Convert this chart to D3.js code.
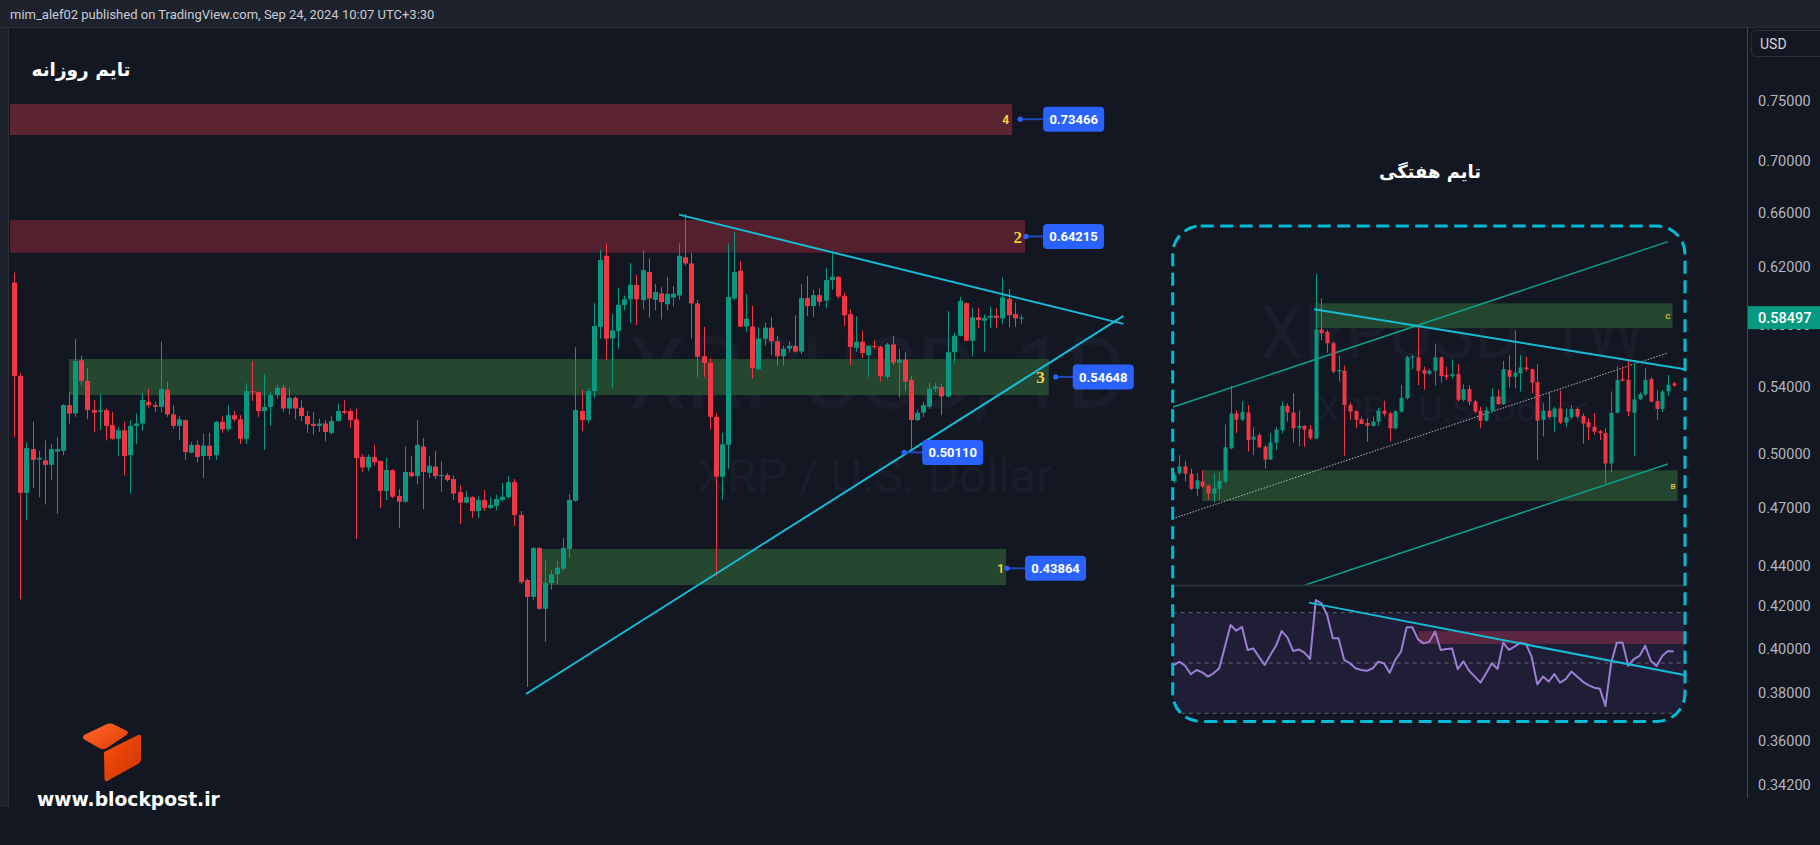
<!DOCTYPE html>
<html>
<head>
<meta charset="utf-8">
<script src="https://cdn.jsdelivr.net/npm/d3@7"></script>
<style>
html, body { margin: 0; padding: 0; background: #131722; overflow: hidden; }
svg { display: block; }
</style>
</head>
<body>
<div id="chart"></div>
<script>

// ---- daily XRPUSD candles [open, high, low, close], Apr 12 -> Sep 24 2024
var dailyCandles = [
[0.609,0.616,0.510,0.547],[0.547,0.549,0.4233,0.4784],[0.4784,0.507,0.4637,0.5036],[0.503,0.519,0.481,0.4968],
[0.497,0.502,0.476,0.498],[0.4965,0.508,0.472,0.494],[0.494,0.506,0.4855,0.503],[0.5016,0.51,0.467,0.503],
[0.502,0.5297,0.4995,0.5291],[0.529,0.537,0.518,0.524],[0.524,0.571,0.522,0.5565],[0.557,0.56,0.5415,0.544],
[0.544,0.552,0.5205,0.5261],[0.526,0.532,0.513,0.5245],[0.525,0.536,0.514,0.526],[0.526,0.527,0.508,0.5166],
[0.517,0.525,0.5085,0.509],[0.509,0.516,0.499,0.514],[0.514,0.519,0.488,0.499],[0.4995,0.52,0.478,0.5166],
[0.5166,0.524,0.506,0.518],[0.518,0.5365,0.514,0.5322],[0.531,0.539,0.5275,0.529],[0.529,0.531,0.525,0.528],
[0.528,0.569,0.5245,0.539],[0.5385,0.5435,0.522,0.5235],[0.5235,0.529,0.515,0.5166],[0.5166,0.5225,0.5085,0.5205],
[0.52,0.5205,0.4968,0.5013],[0.501,0.507,0.5005,0.5055],[0.5055,0.508,0.4955,0.4985],[0.499,0.512,0.4866,0.505],
[0.505,0.5125,0.4968,0.499],[0.4995,0.5195,0.4968,0.519],[0.519,0.5225,0.5125,0.5146],[0.5146,0.529,0.5135,0.523],
[0.523,0.5255,0.519,0.5205],[0.5205,0.523,0.506,0.509],[0.509,0.5425,0.506,0.5377],[0.5375,0.5565,0.5316,0.537],
[0.537,0.5375,0.522,0.5255],[0.5255,0.548,0.5025,0.528],[0.528,0.537,0.5166,0.5352],[0.5352,0.5415,0.533,0.5397],
[0.5397,0.5415,0.525,0.527],[0.527,0.5395,0.5235,0.5335],[0.5335,0.5345,0.5205,0.527],[0.5275,0.532,0.5195,0.5225],
[0.5225,0.5255,0.5125,0.5175],[0.5178,0.525,0.5115,0.5166],[0.5166,0.521,0.513,0.518],[0.518,0.52,0.5075,0.513],
[0.5125,0.5225,0.5115,0.5195],[0.5195,0.53,0.519,0.5255],[0.5255,0.532,0.5235,0.5245],[0.5255,0.527,0.5155,0.52],
[0.5205,0.527,0.4537,0.4979],[0.4985,0.5,0.49,0.4925],[0.4925,0.5,0.4905,0.4985],[0.4985,0.5055,0.4935,0.4955],
[0.4962,0.4965,0.470,0.4794],[0.4794,0.498,0.4745,0.491],[0.491,0.4915,0.4755,0.4762],[0.4767,0.4805,0.4595,0.4735],
[0.4735,0.5045,0.473,0.49],[0.4898,0.499,0.487,0.4876],[0.4876,0.52,0.483,0.5055],[0.5045,0.5095,0.4695,0.49],
[0.4895,0.499,0.4866,0.4935],[0.493,0.502,0.486,0.4876],[0.4876,0.496,0.479,0.4882],[0.4882,0.4893,0.4845,0.4855],
[0.486,0.4882,0.4745,0.478],[0.4788,0.4826,0.4615,0.473],[0.473,0.4794,0.4725,0.476],[0.476,0.4765,0.4647,0.4685],
[0.4685,0.4765,0.4647,0.4745],[0.4745,0.48,0.4685,0.4702],[0.4702,0.476,0.4696,0.4718],[0.4713,0.4773,0.469,0.475],
[0.4745,0.4838,0.4735,0.4762],[0.476,0.4877,0.4755,0.4843],[0.4843,0.486,0.4605,0.4664],[0.4664,0.4685,0.4307,0.4318],
[0.4328,0.4335,0.3828,0.4245],[0.4245,0.4495,0.423,0.449],[0.449,0.4495,0.4183,0.4187],[0.4187,0.4429,0.4032,0.4313],
[0.4313,0.4376,0.428,0.4357],[0.4357,0.4425,0.4307,0.439],[0.4385,0.4542,0.4375,0.449],[0.4485,0.4777,0.444,0.4745],
[0.474,0.5655,0.4735,0.5261],[0.5255,0.5385,0.5135,0.52],[0.52,0.5395,0.5185,0.5377],[0.5377,0.5948,0.5335,0.5794],
[0.5788,0.6323,0.571,0.625],[0.628,0.637,0.5572,0.571],[0.5712,0.5875,0.5397,0.5765],[0.576,0.605,0.5645,0.5936],
[0.5936,0.6,0.59,0.5975],[0.5975,0.6227,0.5813,0.6073],[0.6073,0.6145,0.58,0.5973],[0.5969,0.6323,0.5905,0.6178],
[0.6164,0.6262,0.585,0.598],[0.597,0.608,0.59,0.6024],[0.6015,0.6058,0.5838,0.5955],[0.594,0.6131,0.59,0.6012],
[0.5986,0.6066,0.5926,0.6013],[0.6,0.637,0.597,0.628],[0.627,0.659,0.621,0.6225],[0.6225,0.6302,0.571,0.5946],
[0.5946,0.597,0.5465,0.5593],[0.5596,0.5788,0.5465,0.5553],[0.5553,0.5583,0.5143,0.522],[0.522,0.5245,0.4347,0.4873],
[0.4873,0.5125,0.4745,0.5058],[0.5055,0.637,0.4918,0.599],[0.598,0.6455,0.597,0.6164],[0.6173,0.6242,0.5788,0.579],
[0.579,0.601,0.5755,0.5842],[0.579,0.593,0.5455,0.552],[0.5514,0.5785,0.5505,0.571],[0.571,0.5818,0.5665,0.5783],
[0.5783,0.5853,0.5603,0.5693],[0.5693,0.5727,0.5535,0.5596],[0.5596,0.5665,0.5535,0.5645],[0.5645,0.5693,0.562,0.5663],
[0.5663,0.5865,0.562,0.5626],[0.5626,0.608,0.561,0.5982],[0.5982,0.6138,0.586,0.5928],[0.5928,0.6042,0.5855,0.6003],
[0.6003,0.605,0.5928,0.5957],[0.5965,0.6195,0.5912,0.6107],[0.6107,0.6312,0.604,0.613],[0.613,0.6135,0.598,0.5993],
[0.5998,0.6021,0.5794,0.5866],[0.5873,0.5905,0.554,0.5657],[0.5651,0.5858,0.5626,0.569],[0.569,0.5765,0.5585,0.5616],
[0.5605,0.5668,0.5465,0.5663],[0.5663,0.57,0.564,0.5658],[0.5658,0.5663,0.5435,0.5469],[0.5465,0.5682,0.545,0.5673],
[0.5673,0.573,0.554,0.5555],[0.5555,0.5644,0.5336,0.5575],[0.5575,0.5623,0.5376,0.5435],[0.5445,0.547,0.5011,0.5201],
[0.5201,0.5262,0.5195,0.5245],[0.5245,0.5312,0.5218,0.5291],[0.5281,0.5425,0.5267,0.5392],[0.5392,0.5428,0.5372,0.5405],
[0.5402,0.5425,0.523,0.5344],[0.5344,0.5893,0.5336,0.5622],[0.5622,0.5749,0.5553,0.5729],[0.5729,0.5991,0.5725,0.5962],
[0.5948,0.5952,0.5693,0.5697],[0.5697,0.5916,0.5596,0.5852],[0.5852,0.5916,0.578,0.5833],[0.5829,0.5871,0.5626,0.5848],
[0.5848,0.5925,0.578,0.5862],[0.5862,0.5918,0.578,0.5848],[0.5845,0.6127,0.5806,0.5987],[0.5978,0.6046,0.5784,0.5866],
[0.5873,0.5952,0.5788,0.5845],[0.5845,0.5871,0.5808,0.585]
];

var priceTicks = [0.75, 0.70, 0.66, 0.62, 0.58, 0.54, 0.50, 0.47, 0.44, 0.42, 0.40, 0.38, 0.36, 0.342];
var lastPrice = 0.58497;

// horizontal zones on the daily chart: name, kind, from/to candle index, top/bottom price, level
var zoneNames  = ["4", "2", "3", "1"];
var zoneKinds  = ["sell", "sell", "buy", "buy"];
var zoneFrom   = [-0.7, -0.7, 9.0, 86.0];
var zoneTo     = [163.6, 165.7, 169.6, 162.6];
var zoneTop    = [0.7476, 0.6543, 0.5578, 0.4485];
var zoneBottom = [0.7214, 0.6302, 0.5352, 0.4303];
var zoneLevel  = [0.73466, 0.64215, 0.54648, 0.43864];

// daily triangle: [candle index, price]
var triangleTop    = [[108.98, 0.6584], [181.85, 0.5808]];
var triangleBottom = [[83.9, 0.3797], [181.85, 0.5861]];
var swingLow = [145.9, 0.50110];

// ---- weekly inset (Jan 2023 -> Sep 2024) [open, high, low, close]
var weeklyCandles = [
[0.382,0.396,0.379,0.393],[0.396,0.428,0.393,0.408],[0.408,0.418,0.382,0.395],[0.395,0.404,0.368,0.370],
[0.370,0.396,0.358,0.384],[0.382,0.401,0.371,0.374],[0.375,0.377,0.353,0.363],[0.362,0.396,0.349,0.371],
[0.370,0.397,0.353,0.383],[0.382,0.489,0.379,0.443],[0.441,0.578,0.439,0.513],[0.513,0.520,0.471,0.499],
[0.499,0.541,0.495,0.516],[0.515,0.532,0.435,0.457],[0.458,0.483,0.428,0.464],[0.467,0.471,0.441,0.443],
[0.444,0.447,0.404,0.420],[0.420,0.471,0.419,0.452],[0.452,0.484,0.438,0.478],[0.477,0.541,0.471,0.530],
[0.530,0.536,0.495,0.515],[0.515,0.560,0.452,0.481],[0.481,0.520,0.445,0.486],[0.486,0.488,0.444,0.478],
[0.479,0.488,0.457,0.461],[0.460,0.938,0.459,0.738],[0.738,0.844,0.705,0.726],[0.730,0.736,0.667,0.695],
[0.695,0.700,0.610,0.615],[0.615,0.658,0.589,0.619],[0.617,0.631,0.427,0.532],[0.532,0.538,0.499,0.517],
[0.518,0.520,0.481,0.499],[0.500,0.506,0.490,0.490],[0.492,0.502,0.454,0.486],[0.486,0.506,0.484,0.495],
[0.495,0.526,0.486,0.519],[0.519,0.542,0.506,0.512],[0.513,0.517,0.454,0.481],[0.481,0.520,0.478,0.518],
[0.517,0.580,0.515,0.549],[0.548,0.658,0.545,0.654],[0.653,0.660,0.621,0.656],[0.654,0.745,0.580,0.617],
[0.619,0.628,0.568,0.609],[0.609,0.621,0.606,0.617],[0.617,0.693,0.579,0.654],[0.654,0.656,0.586,0.603],
[0.606,0.628,0.593,0.601],[0.603,0.648,0.597,0.608],[0.608,0.635,0.540,0.544],[0.544,0.582,0.540,0.570],
[0.570,0.580,0.532,0.540],[0.540,0.544,0.513,0.517],[0.519,0.528,0.481,0.497],[0.497,0.528,0.495,0.520],
[0.519,0.572,0.515,0.552],[0.552,0.568,0.532,0.534],[0.534,0.644,0.532,0.621],[0.619,0.660,0.574,0.601],
[0.601,0.736,0.572,0.612],[0.610,0.660,0.564,0.626],[0.626,0.656,0.615,0.621],[0.621,0.623,0.560,0.586],
[0.587,0.635,0.419,0.497],[0.499,0.536,0.464,0.519],[0.519,0.564,0.500,0.505],[0.505,0.528,0.474,0.524],
[0.524,0.567,0.490,0.493],[0.493,0.524,0.483,0.505],[0.505,0.532,0.500,0.523],[0.523,0.526,0.502,0.506],
[0.507,0.513,0.450,0.491],[0.494,0.502,0.457,0.483],[0.484,0.514,0.468,0.474],[0.475,0.478,0.457,0.471],
[0.471,0.481,0.379,0.413],[0.413,0.564,0.398,0.514],[0.514,0.630,0.513,0.593],[0.595,0.628,0.589,0.591],
[0.593,0.649,0.507,0.517],[0.514,0.639,0.427,0.545],[0.545,0.562,0.544,0.558],[0.557,0.624,0.553,0.593],
[0.595,0.600,0.538,0.540],[0.541,0.568,0.499,0.523],[0.523,0.568,0.516,0.564],[0.564,0.606,0.553,0.581],
[0.584,0.588,0.575,0.579]
];
var weeklyRSI = [
49.2,50.5,48.9,45.5,47.2,46.3,44.6,45.9,47.9,56.5,65.1,62.8,64.4,55.2,55.8,52.5,49.2,53.2,56.9,62.7,
60.2,54.8,55.4,54.1,51.6,75.0,73.7,69.1,59.8,59.8,51.2,49.9,47.9,47.2,46.9,47.9,50.5,49.9,46.1,51.2,
54.5,64.2,64.2,59.4,57.8,58.5,62.5,55.2,55.6,55.8,47.5,50.7,46.9,44.6,42.2,45.9,49.9,47.6,58.1,55.2,
56.5,58.1,57.6,52.5,41.5,44.6,42.6,45.6,42.2,43.6,46.6,44.6,42.6,41.2,40.2,39.8,32.9,49.9,58.1,58.2,
48.9,51.5,52.8,56.9,50.8,48.8,52.8,54.8,54.6
];
var rsiLevels = [70, 50, 30];

// weekly zones: name, from/to week index, top/bottom price
var weekZoneNames  = ["C", "B"];
var weekZoneFrom   = [24.9, 5.0];
var weekZoneTo     = [87.8, 88.7];
var weekZoneTop    = [0.826, 0.401];
var weekZoneBottom = [0.742, 0.351];

// weekly lines: [week index, price]
var channelUpper = [[-0.42, 0.526], [87, 1.079]];
var channelMid   = [[-0.2, 0.3252], [87, 0.667]];
var channelLower = [[23.0, 0.2438], [87, 0.412]];
var weekDownLine = [[24.7, 0.805], [90, 0.621]];

// RSI pane: [week index, rsi]
var rsiZone = [43.1, 89.9, 62.7, 57.6];
var rsiDownLine = [[23.8, 74.0], [89.9, 45.2]];


/*
 * ChartVis - draws the TradingView style snapshot
 */
ChartVis = function(_parentElement){
	this.parentElement = _parentElement;
	this.initVis();
}

ChartVis.prototype.initVis = function(){
	var vis = this;

	vis.width = 1820;
	vis.height = 845;
	vis.UP = "#089981";
	vis.DOWN = "#f23645";
	vis.pane = { left: 9, top: 27, right: 1747, bottom: 798 };

	vis.svg = d3.select("#" + vis.parentElement).append("svg")
		.attr("width", vis.width)
		.attr("height", vis.height)
		.style("font-family", "Roboto, 'DejaVu Sans', sans-serif");

	vis.defs = vis.svg.append("defs");

	vis.defs.append("clipPath").attr("id", "paneClip")
		.append("rect")
		.attr("x", vis.pane.left).attr("y", vis.pane.top)
		.attr("width", vis.pane.right - vis.pane.left)
		.attr("height", vis.pane.bottom - vis.pane.top);

	// Scales (log price axis like the reference)
	vis.x = d3.scaleLinear().domain([0, 165]).range([14.2, 1020.7]);
	vis.y = d3.scaleLog().domain([0.342, 0.75]).range([785.1, 101.2]);

	vis.drawFrame();
	vis.drawDaily();
	vis.drawAxis();
	vis.drawInset();
	vis.drawLogo();
}

ChartVis.prototype.drawFrame = function(){
	var vis = this;

	vis.svg.append("rect")
		.attr("width", vis.width).attr("height", vis.height)
		.attr("fill", "#131722");

	// header bar
	vis.svg.append("rect")
		.attr("x", 0).attr("y", 0).attr("width", vis.width).attr("height", 27)
		.attr("fill", "#1e222d");
	vis.svg.append("line")
		.attr("x1", 0).attr("x2", vis.width).attr("y1", 27.5).attr("y2", 27.5)
		.attr("stroke", "#2a2e39");
	vis.svg.append("text")
		.attr("x", 10).attr("y", 19)
		.attr("fill", "#c9ccd4")
		.attr("font-size", 13)
		.text("mim_alef02 published on TradingView.com, Sep 24, 2024 10:07 UTC+3:30");

	// left strip
	vis.svg.append("rect")
		.attr("x", 0).attr("y", 28).attr("width", 8).attr("height", 779)
		.attr("fill", "#1e222d");
	vis.svg.append("line")
		.attr("x1", 8.5).attr("x2", 8.5).attr("y1", 28).attr("y2", 807)
		.attr("stroke", "#2a2e39");

	// watermark
	vis.svg.append("text")
		.attr("x", 628).attr("y", 408)
		.attr("font-size", 100)
		.attr("textLength", 499)
		.attr("lengthAdjust", "spacingAndGlyphs")
		.attr("fill", "#1a1e2b")
		.text("XRPUSD, 1D");
	vis.svg.append("text")
		.attr("x", 697).attr("y", 492)
		.attr("font-size", 46)
		.attr("textLength", 355)
		.attr("lengthAdjust", "spacingAndGlyphs")
		.attr("fill", "#1a1e2b")
		.text("XRP / U.S. Dollar");

	// title
	vis.svg.append("text")
		.attr("x", 81).attr("y", 76)
		.attr("text-anchor", "middle")
		.attr("direction", "rtl")
		.attr("fill", "#ffffff")
		.attr("font-family", "'DejaVu Sans', sans-serif")
		.attr("font-weight", "bold")
		.attr("font-size", 18.5)
		.text("تایم روزانه");
}

ChartVis.prototype.drawDaily = function(){
	var vis = this;
	var x = vis.x, y = vis.y;

	var g = vis.svg.append("g").attr("clip-path", "url(#paneClip)");

	// zones
	var zoneFill = { sell: ["#5c2430", "#55202e"], buy: ["#25472f", "#25472f"] };
	g.selectAll(".zone").data(zoneNames).join("rect")
		.attr("class", "zone")
		.attr("x", (d, i) => x(zoneFrom[i]))
		.attr("width", (d, i) => x(zoneTo[i]) - x(zoneFrom[i]))
		.attr("y", (d, i) => y(zoneTop[i]))
		.attr("height", (d, i) => y(zoneBottom[i]) - y(zoneTop[i]))
		.attr("fill", (d, i) => zoneFill[zoneKinds[i]][i % 2]);

	// candles
	var bodyW = 5;
	g.selectAll(".wick").data(dailyCandles).join("line")
		.attr("class", "wick")
		.attr("x1", (d, i) => Math.round(x(i)) + 0.5)
		.attr("x2", (d, i) => Math.round(x(i)) + 0.5)
		.attr("y1", d => y(d[1]))
		.attr("y2", d => y(d[2]))
		.attr("stroke", d => d[3] >= d[0] ? vis.UP : vis.DOWN)
		.attr("stroke-width", 1);

	g.selectAll(".body").data(dailyCandles).join("rect")
		.attr("class", "body")
		.attr("x", (d, i) => Math.round(x(i)) + 0.5 - bodyW / 2)
		.attr("width", bodyW)
		.attr("y", d => y(Math.max(d[0], d[3])))
		.attr("height", d => Math.max(1, Math.abs(y(d[0]) - y(d[3]))))
		.attr("fill", d => d[3] >= d[0] ? vis.UP : vis.DOWN);

	// triangle
	var line = d3.line().x(d => x(d[0])).y(d => y(d[1]));
	[triangleTop, triangleBottom].forEach(function(t){
		g.append("path")
			.datum(t)
			.attr("d", line)
			.attr("fill", "none")
			.attr("stroke", "#16bcd6")
			.attr("stroke-width", 2);
	});

	// level labels: number, dot, line, blue box
	var layout = [
		{ num: -3, font: "Roboto", size: 12, dot: 8, box: 31 },
		{ num: -3, font: "'Liberation Serif'", size: 17, dot: 1, box: 18 },
		{ num: -4, font: "'Liberation Serif'", size: 17, dot: 7, box: 24 },
		{ num: -2, font: "Roboto", size: 12, dot: 1, box: 19 }
	];

	zoneNames.forEach(function(name, i){
		var ex = x(zoneTo[i]);
		var cy = y(zoneLevel[i]);
		var L = layout[i];
		vis.svg.append("text")
			.attr("x", ex + L.num).attr("y", cy)
			.attr("dy", "0.36em")
			.attr("text-anchor", "end")
			.attr("font-family", L.font)
			.attr("font-weight", "bold")
			.attr("font-size", L.size)
			.attr("fill", "#f2cf3c")
			.text(name);
		vis.priceTag(ex + L.dot, ex + L.box, cy, zoneLevel[i]);
	});

	vis.priceTag(x(swingLow[0]), x(swingLow[0]) + 18, y(swingLow[1]), swingLow[1]);
}

ChartVis.prototype.priceTag = function(dotX, boxX, cy, value){
	var vis = this;
	var g = vis.svg.append("g");
	g.append("line")
		.attr("x1", dotX).attr("x2", boxX + 2)
		.attr("y1", cy).attr("y2", cy)
		.attr("stroke", "#2148b8")
		.attr("stroke-width", 2);
	g.append("circle")
		.attr("cx", dotX).attr("cy", cy).attr("r", 2.6)
		.attr("fill", "#2962ff");
	g.append("rect")
		.attr("x", boxX).attr("y", cy - 12.5)
		.attr("width", 61).attr("height", 25)
		.attr("rx", 4)
		.attr("fill", "#2962ff");
	g.append("text")
		.attr("x", boxX + 30.5).attr("y", cy)
		.attr("dy", "0.36em")
		.attr("text-anchor", "middle")
		.attr("fill", "#ffffff")
		.attr("font-weight", "bold")
		.attr("font-size", 13)
		.text(d3.format(".5f")(value));
}

ChartVis.prototype.drawAxis = function(){
	var vis = this;

	vis.svg.append("line")
		.attr("x1", vis.pane.right + 0.5).attr("x2", vis.pane.right + 0.5)
		.attr("y1", 28).attr("y2", vis.pane.bottom)
		.attr("stroke", "#434651");

	vis.yAxis = d3.axisRight(vis.y)
		.tickValues(priceTicks)
		.tickFormat(d3.format(".5f"))
		.tickSize(0)
		.tickPadding(11);

	var ax = vis.svg.append("g")
		.attr("class", "y-axis axis")
		.attr("transform", "translate(" + vis.pane.right + ",0)")
		.call(vis.yAxis);
	ax.select(".domain").remove();
	ax.selectAll("text")
		.attr("fill", "#b2b5be")
		.attr("font-size", 14.5)
		.attr("font-family", "Roboto, sans-serif");

	// USD button
	vis.svg.append("rect")
		.attr("x", 1751.5).attr("y", 30.5).attr("width", 80).attr("height", 26)
		.attr("rx", 4)
		.attr("fill", "#131722")
		.attr("stroke", "#2a2e39");
	vis.svg.append("text")
		.attr("x", 1760).attr("y", 49)
		.attr("fill", "#d1d4dc")
		.attr("font-size", 14)
		.text("USD");

	// last price tag
	var ly = vis.y(lastPrice);
	vis.svg.append("rect")
		.attr("x", vis.pane.right + 1).attr("y", ly - 11.5)
		.attr("width", 80).attr("height", 23)
		.attr("fill", vis.UP);
	vis.svg.append("text")
		.attr("x", 1758).attr("y", ly)
		.attr("dy", "0.36em")
		.attr("fill", "#ffffff")
		.attr("font-size", 14.5)
		.attr("font-weight", 500)
		.text(d3.format(".5f")(lastPrice));
}

ChartVis.prototype.drawInset = function(){
	var vis = this;

	var box = { x: 1172.7, y: 226, w: 512.3, h: 495.5, r: 28 };
	var sep = 585.5;

	var wx = d3.scaleLinear().domain([0, 88]).range([1173.8, 1673.6]);
	var wy = d3.scaleLog().domain([0.35, 0.938]).range([501.7, 274]);
	var ry = d3.scaleLinear().domain([30, 70]).range([713.3, 612.7]);

	vis.defs.append("clipPath").attr("id", "insetClip")
		.append("rect")
		.attr("x", box.x).attr("y", box.y).attr("width", box.w).attr("height", box.h)
		.attr("rx", box.r);
	vis.defs.append("clipPath").attr("id", "insetTop")
		.append("rect")
		.attr("x", box.x).attr("y", box.y).attr("width", box.w).attr("height", sep - box.y);

	// title
	vis.svg.append("text")
		.attr("x", 1430).attr("y", 178)
		.attr("text-anchor", "middle")
		.attr("direction", "rtl")
		.attr("fill", "#ffffff")
		.attr("font-family", "'DejaVu Sans', sans-serif")
		.attr("font-weight", "bold")
		.attr("font-size", 18)
		.text("تایم هفتگی");

	var outer = vis.svg.append("g").attr("clip-path", "url(#insetClip)");
	outer.append("rect")
		.attr("x", box.x).attr("y", box.y).attr("width", box.w).attr("height", box.h)
		.attr("fill", "#131722");

	var top = outer.append("g").attr("clip-path", "url(#insetTop)");

	top.append("text")
		.attr("x", 1260).attr("y", 358)
		.attr("font-size", 74)
		.attr("textLength", 386)
		.attr("lengthAdjust", "spacingAndGlyphs")
		.attr("fill", "#1a1e2b")
		.text("XRPUSD, 1W");
	top.append("text")
		.attr("x", 1317).attr("y", 421)
		.attr("font-size", 33)
		.attr("textLength", 270)
		.attr("lengthAdjust", "spacingAndGlyphs")
		.attr("fill", "#1a1e2b")
		.text("XRP / U.S. Dollar");

	// zones
	top.selectAll(".wzone").data(weekZoneNames).join("rect")
		.attr("class", "wzone")
		.attr("x", (d, i) => wx(weekZoneFrom[i]))
		.attr("width", (d, i) => wx(weekZoneTo[i]) - wx(weekZoneFrom[i]))
		.attr("y", (d, i) => wy(weekZoneTop[i]))
		.attr("height", (d, i) => wy(weekZoneBottom[i]) - wy(weekZoneTop[i]))
		.attr("fill", "#24462f");
	top.selectAll(".wzlabel").data(weekZoneNames).join("text")
		.attr("class", "wzlabel")
		.attr("x", (d, i) => wx(weekZoneTo[i]) - 2)
		.attr("y", (d, i) => (wy(weekZoneTop[i]) + wy(weekZoneBottom[i])) / 2)
		.attr("dy", "0.36em")
		.attr("text-anchor", "end")
		.attr("font-size", 8)
		.attr("font-weight", "bold")
		.attr("fill", "#d8bf3a")
		.text(d => d);

	var wline = d3.line().x(d => wx(d[0])).y(d => wy(d[1]));

	top.append("path").datum(channelMid)
		.attr("d", wline).attr("fill", "none")
		.attr("stroke", "#b2b5be").attr("stroke-width", 1)
		.attr("stroke-dasharray", "1.5,1.5");
	[channelUpper, channelLower].forEach(function(c){
		top.append("path").datum(c)
			.attr("d", wline).attr("fill", "none")
			.attr("stroke", "#0f9d88").attr("stroke-width", 1.5);
	});

	// weekly candles
	var bw = 4;
	top.selectAll(".wwick").data(weeklyCandles).join("line")
		.attr("class", "wwick")
		.attr("x1", (d, i) => Math.round(wx(i)) + 0.5)
		.attr("x2", (d, i) => Math.round(wx(i)) + 0.5)
		.attr("y1", d => wy(d[1]))
		.attr("y2", d => wy(d[2]))
		.attr("stroke", d => d[3] >= d[0] ? vis.UP : vis.DOWN);
	top.selectAll(".wbody").data(weeklyCandles).join("rect")
		.attr("class", "wbody")
		.attr("x", (d, i) => Math.round(wx(i)) + 0.5 - bw / 2)
		.attr("width", bw)
		.attr("y", d => wy(Math.max(d[0], d[3])))
		.attr("height", d => Math.max(1, Math.abs(wy(d[0]) - wy(d[3]))))
		.attr("fill", d => d[3] >= d[0] ? vis.UP : vis.DOWN);

	top.append("path").datum(weekDownLine)
		.attr("d", wline).attr("fill", "none")
		.attr("stroke", "#16bcd6").attr("stroke-width", 2);

	// RSI pane
	outer.append("line")
		.attr("x1", box.x).attr("x2", box.x + box.w)
		.attr("y1", sep).attr("y2", sep)
		.attr("stroke", "#2a2e39").attr("stroke-width", 2);

	outer.append("rect")
		.attr("x", box.x).attr("width", box.w)
		.attr("y", ry(70)).attr("height", ry(30) - ry(70))
		.attr("fill", "#201e37");

	outer.selectAll(".rsilevel").data(rsiLevels).join("line")
		.attr("class", "rsilevel")
		.attr("x1", box.x).attr("x2", box.x + box.w)
		.attr("y1", d => ry(d)).attr("y2", d => ry(d))
		.attr("stroke", "#5d606b")
		.attr("stroke-dasharray", "4,4");

	outer.append("rect")
		.attr("x", wx(rsiZone[0])).attr("width", wx(rsiZone[1]) - wx(rsiZone[0]))
		.attr("y", ry(rsiZone[2])).attr("height", ry(rsiZone[3]) - ry(rsiZone[2]))
		.attr("fill", "#5a2640");

	var rline = d3.line().x((d, i) => wx(i)).y(d => ry(d));
	outer.append("path").datum(weeklyRSI)
		.attr("d", rline).attr("fill", "none")
		.attr("stroke", "#9b7fd4").attr("stroke-width", 2)
		.attr("stroke-linejoin", "round");

	outer.append("path").datum(rsiDownLine)
		.attr("d", d3.line().x(d => wx(d[0])).y(d => ry(d[1])))
		.attr("fill", "none")
		.attr("stroke", "#16bcd6").attr("stroke-width", 2);

	// dashed frame
	vis.svg.append("rect")
		.attr("x", box.x).attr("y", box.y).attr("width", box.w).attr("height", box.h)
		.attr("rx", box.r)
		.attr("fill", "none")
		.attr("stroke", "#00bcd4")
		.attr("stroke-width", 3)
		.attr("stroke-dasharray", "13,6.5");
}

ChartVis.prototype.drawLogo = function(){
	var vis = this;

	var grad = vis.defs.append("linearGradient").attr("id", "logoGrad")
		.attr("x1", "0").attr("y1", "0").attr("x2", "1").attr("y2", "1");
	grad.append("stop").attr("offset", "0%").attr("stop-color", "#ff6a2a");
	grad.append("stop").attr("offset", "100%").attr("stop-color", "#e23a05");
	var grad2 = vis.defs.append("linearGradient").attr("id", "logoGrad2")
		.attr("x1", "0").attr("y1", "0").attr("x2", "1").attr("y2", "1");
	grad2.append("stop").attr("offset", "0%").attr("stop-color", "#ff4f0a");
	grad2.append("stop").attr("offset", "100%").attr("stop-color", "#c93300");

	vis.svg.append("path")
		.attr("d", "M84,735 L106,724.5 Q110,722.5 114,724.5 L126,730.5 Q129.5,732.5 126.5,735 L106,748.5 Q103,750 100,748.5 L85,740 Q81.5,737.5 84,735 Z")
		.attr("fill", "url(#logoGrad)");
	vis.svg.append("path")
		.attr("d", "M104,752 L138,735 Q141,733.5 141,737 L141,759 Q141,762.5 138,764 L109,780 Q105,783 104.5,779 Z")
		.attr("fill", "url(#logoGrad2)");

	vis.svg.append("text")
		.attr("x", 37).attr("y", 806)
		.attr("font-family", "'DejaVu Sans', sans-serif")
		.attr("font-weight", "bold")
		.attr("font-size", 18.7)
		.attr("fill", "#ffffff")
		.text("www.blockpost.ir");
}

var chartVis = new ChartVis("chart");

</script>
</body>
</html>
